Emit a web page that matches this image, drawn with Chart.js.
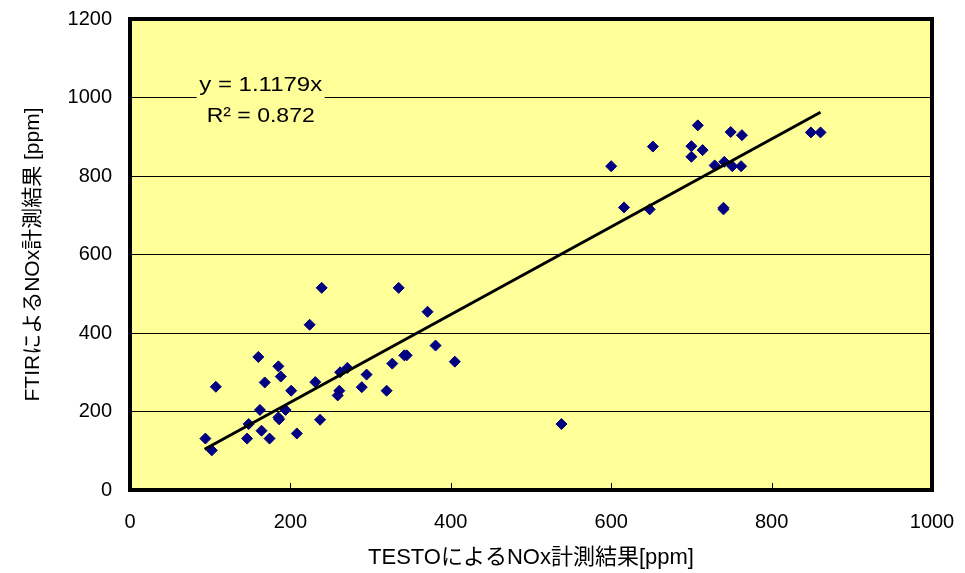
<!DOCTYPE html>
<html>
<head>
<meta charset="utf-8">
<script src="https://cdn.jsdelivr.net/npm/chart.js@4"></script>
<style>
    html, body { margin: 0; padding: 0; background: #fff; }
    #wrap { width: 965px; height: 573px; }
</style>
</head>
<body>
<div id="wrap"><canvas id="noxChart" width="965" height="573"></canvas></div>
<script>
// TESTO readings (x) vs FTIR readings (y), ppm
const testoValues = [
    94, 102, 107, 146, 148, 160, 162, 164, 168, 174,
    185, 188, 185, 186, 194, 201, 208, 224, 231, 237,
    239, 262, 271, 261, 259, 289, 295, 320, 327, 342,
    345, 335, 371, 381, 405, 538,
    600, 616, 648, 652, 708, 700, 700, 714, 729, 741,
    751, 762, 740, 740, 749, 763, 849, 861
];
const ftirValues = [
    131, 101, 263, 131, 168, 339, 204, 151, 274, 131,
    315, 289, 185, 180, 204, 253, 144, 421, 275, 179,
    515, 300, 311, 253, 241, 262, 294, 253, 322, 343,
    343, 515, 454, 368, 327, 168,
    825, 720, 715, 875, 929, 876, 849, 866, 827, 836,
    825, 825, 719, 715, 912, 904, 911, 911
];

// trendline y = 1.1179x, R^2 = 0.872
const trendSlope = 1.1179;
const trendRange = [93, 861];
const equationLines = ['y = 1.1179x', 'R² = 0.872'];

const xTicks = [0, 200, 400, 600, 800, 1000];
const yTicks = [0, 200, 400, 600, 800, 1000, 1200];

const xTitle = 'TESTOによるNOx計測結果[ppm]';
const yTitle = 'FTIRによるNOx計測結果 [ppm]';

const fontFamily = "'Liberation Sans', Arial, 'Noto Sans CJK JP', sans-serif";

const points = testoValues.map(function (x, i) {
    return { x: x, y: ftirValues[i] };
});
const trendPoints = trendRange.map(function (x) {
    return { x: x, y: trendSlope * x };
});

// yellow plot area, thick frame, inner ticks and the equation box
const plotDecor = {
    id: 'plotDecor',
    beforeDraw: function (chart) {
        const ctx = chart.ctx;
        const a = chart.chartArea;
        ctx.save();
        ctx.fillStyle = '#FFFF99';
        ctx.fillRect(a.left, a.top, a.right - a.left, a.bottom - a.top);
        ctx.restore();
    },
    afterDraw: function (chart) {
        const ctx = chart.ctx;
        const a = chart.chartArea;
        const xs = chart.scales.x;
        const ys = chart.scales.y;
        ctx.save();

        // equation label
        const cx = xs.getPixelForValue(163);
        const y1 = ys.getPixelForValue(1030);
        const y2 = ys.getPixelForValue(952);
        ctx.fillStyle = '#FFFF99';
        ctx.fillRect(cx - 64, y1 - 16, 128, (y2 - y1) + 32);
        ctx.fillStyle = '#000';
        ctx.font = '20px ' + fontFamily;
        ctx.textAlign = 'center';
        ctx.textBaseline = 'middle';
        ctx.save();
        ctx.translate(cx, y1);
        ctx.scale(1.2, 1);
        ctx.fillText(equationLines[0], 0, 0);
        ctx.restore();
        ctx.save();
        ctx.translate(cx, y2);
        ctx.scale(1.15, 1);
        ctx.fillText(equationLines[1], 0, 0);
        ctx.restore();

        // small inner ticks on the x axis
        ctx.strokeStyle = '#000';
        ctx.lineWidth = 1;
        xTicks.slice(1, -1).forEach(function (v) {
            const px = Math.round(xs.getPixelForValue(v)) + 0.5;
            ctx.beginPath();
            ctx.moveTo(px, a.bottom);
            ctx.lineTo(px, a.bottom - 7);
            ctx.stroke();
        });

        // frame
        ctx.lineWidth = 4;
        ctx.strokeRect(a.left, a.top, a.right - a.left, a.bottom - a.top);
        ctx.restore();
    }
};

new Chart(document.getElementById('noxChart'), {
    type: 'scatter',
    data: {
        datasets: [{
            type: 'line',
            label: 'trend',
            data: trendPoints,
            borderColor: '#000',
            borderWidth: 3,
            pointRadius: 0,
            fill: false,
            order: 0
        }, {
            label: 'NOx',
            data: points,
            pointStyle: 'rectRot',
            pointRadius: 5.5,
            pointBackgroundColor: '#000080',
            pointBorderColor: '#000080',
            pointBorderWidth: 1,
            order: 1
        }]
    },
    options: {
        responsive: false,
        animation: false,
        layout: {
            padding: { top: 19, right: 33, left: 0, bottom: 0 }
        },
        plugins: {
            legend: { display: false },
            tooltip: { enabled: false }
        },
        scales: {
            x: {
                type: 'linear',
                min: 0,
                max: 1000,
                afterBuildTicks: function (scale) {
                    scale.ticks = xTicks.map(function (v) { return { value: v }; });
                },
                afterFit: function (scale) {
                    scale.height = 83;
                    scale.paddingLeft = 0;
                    scale.paddingRight = 0;
                },
                grid: { display: false, drawTicks: false },
                border: { display: false },
                ticks: {
                    color: '#000',
                    padding: 20,
                    maxRotation: 0,
                    font: { size: 20, family: fontFamily },
                    callback: function (value) { return String(value); }
                },
                title: {
                    display: true,
                    text: xTitle,
                    color: '#000',
                    padding: { top: 0, bottom: 2 },
                    font: { size: 22, family: fontFamily }
                }
            },
            y: {
                min: 0,
                max: 1200,
                afterBuildTicks: function (scale) {
                    scale.ticks = yTicks.map(function (v) { return { value: v }; });
                },
                afterFit: function (scale) {
                    scale.width = 130;
                    scale.paddingTop = 0;
                    scale.paddingBottom = 0;
                },
                grid: {
                    color: '#000',
                    lineWidth: 1,
                    drawTicks: false
                },
                border: { display: false },
                ticks: {
                    color: '#000',
                    padding: 18,
                    font: { size: 20, family: fontFamily },
                    callback: function (value) { return String(value); }
                },
                title: {
                    display: true,
                    text: yTitle,
                    color: '#000',
                    padding: { top: 21, bottom: 0 },
                    font: { size: 21, family: fontFamily }
                }
            }
        }
    },
    plugins: [plotDecor]
});
</script>
</body>
</html>
